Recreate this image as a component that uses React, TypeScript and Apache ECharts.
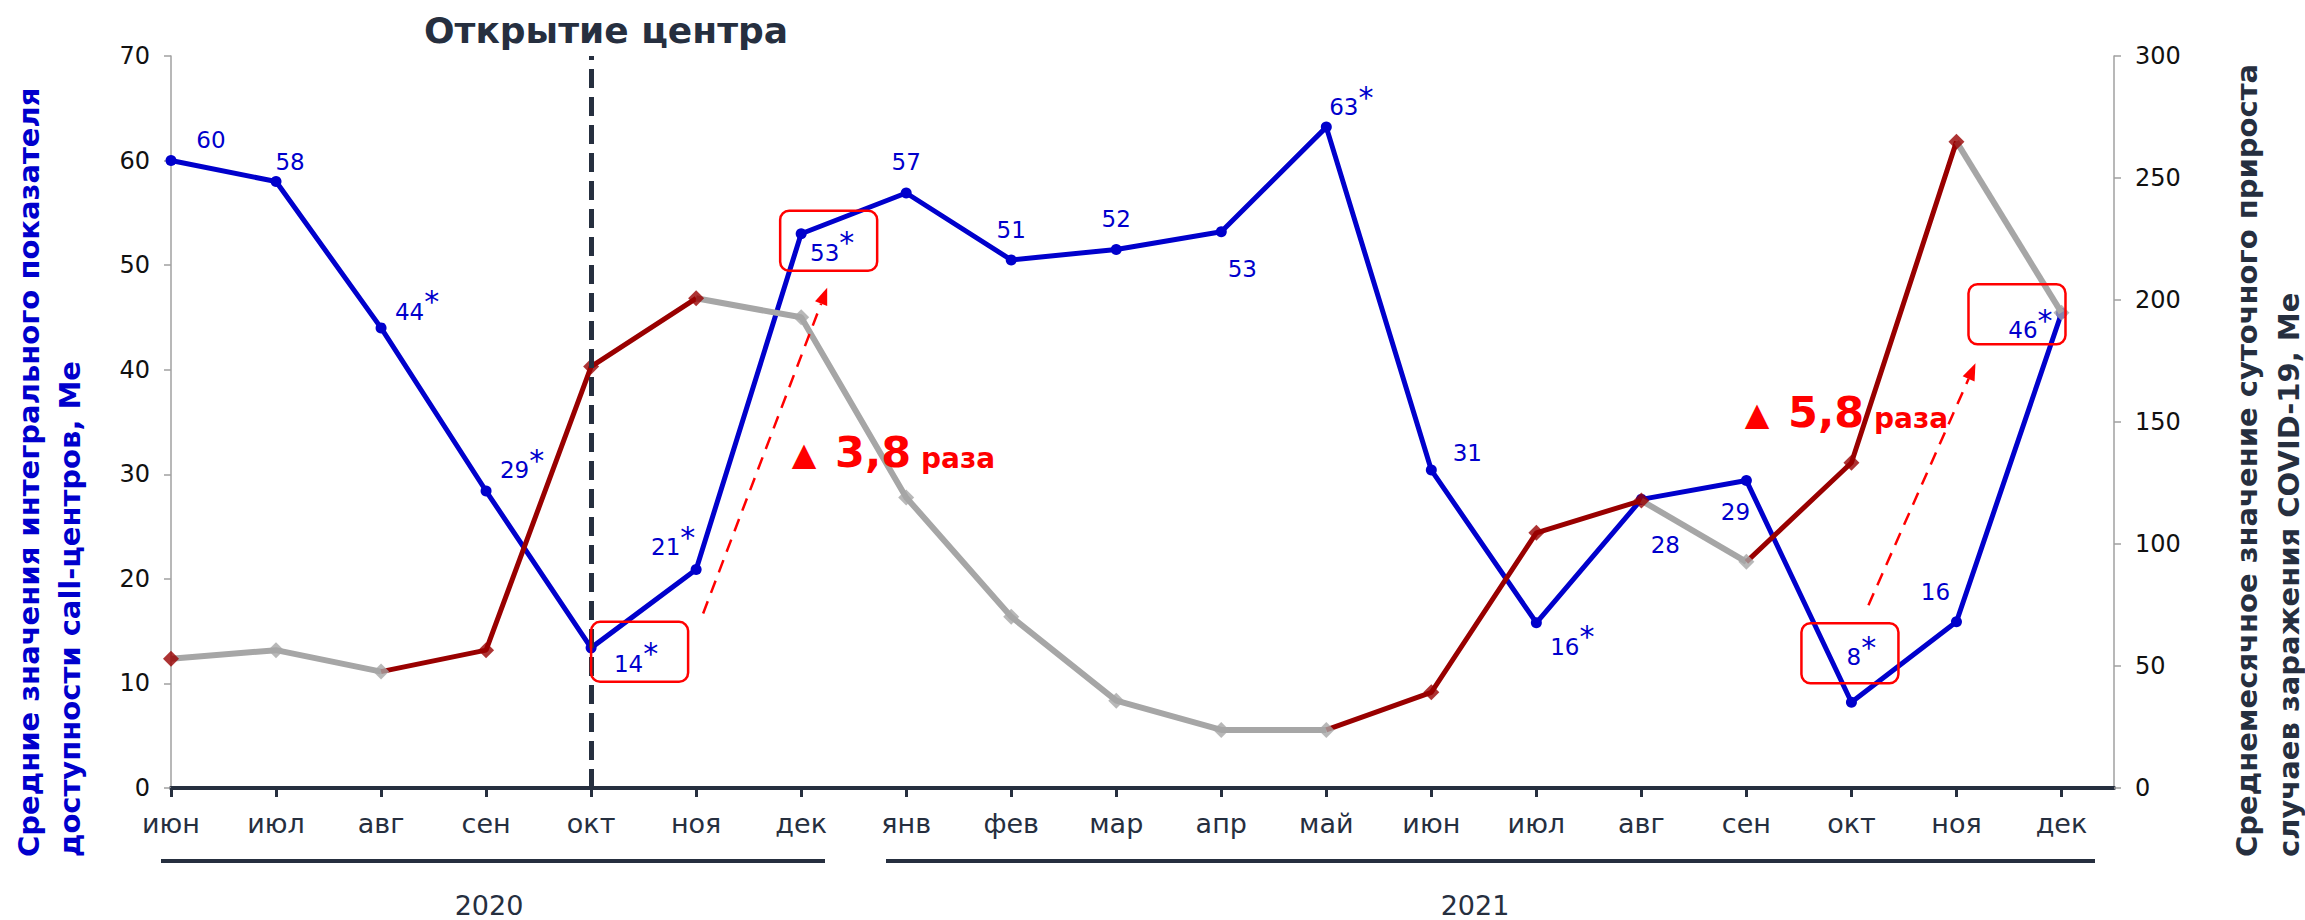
import React, { useEffect, useRef } from 'react';
import * as echarts from 'echarts';

// ---------- data ----------
const months = ['июн', 'июл', 'авг', 'сен', 'окт', 'ноя', 'дек', 'янв', 'фев', 'мар', 'апр', 'май', 'июн', 'июл', 'авг', 'сен', 'окт', 'ноя', 'дек'];
const years = ['2020', '2021'];
// Средние значения интегрального показателя доступности call-центров (левая ось)
const availability = [60, 58, 44, 28.4, 13.4, 20.9, 53, 56.9, 50.5, 51.5, 53.2, 63.2, 30.4, 15.8, 27.6, 29.4, 8.2, 15.9, 45.4];
const availabilityLabels = ['60', '58', '44*', '29*', '14*', '21*', '53*', '57', '51', '52', '53', '63*', '31', '16*', '28', '29', '8*', '16', '46*'];
// Среднемесячное значение суточного прироста COVID-19 (правая ось)
const covidDaily = [53, 56.5, 47.7, 56.5, 172.7, 200.7, 192.9, 119.1, 70.2, 35.8, 23.8, 23.8, 39.2, 104.6, 117.8, 92.7, 133.3, 264.9, 194.8];
// trend colour of each marker and of each segment (r = рост, g = снижение)
const covidPointTrend = ['r', 'g', 'g', 'r', 'r', 'r', 'g', 'g', 'g', 'g', 'g', 'g', 'r', 'r', 'r', 'g', 'r', 'r', 'g'];
const covidSegmentTrend = ['g', 'g', 'r', 'r', 'r', 'g', 'g', 'g', 'g', 'g', 'g', 'r', 'r', 'r', 'g', 'r', 'r', 'g'];
const leftAxisRange = [0, 70, 10];
const rightAxisRange = [0, 300, 50];
const centerOpeningIndex = 4;
const growthLabels = ['3,8', '5,8'];

// ---------- styling / layout ----------
const FONT = 'DejaVu Sans';
const DARK = '#262F3F';
const BLUE = '#0000CC';
const RED = '#990000';
const GRAY = '#A6A6A6';
const ANN = '#FF0000';
// label offsets (centre of the number relative to its point)
const labelOffsets: number[][] = [
  [40, -21], [14, -19], [29, -16], [29, -21], [38, 16], [-30, -22], [24, 19], [0, -31], [0, -30], [0, -30],
  [21, 37], [18, -20], [36, -17], [29, 24], [24, 46], [-11, 31], [3, -45], [-21, -30], [-38, 17],
];

function labelText(s: string) {
  if (s.endsWith('*')) return `{n|${s.slice(0, -1)}}{s|*}`;
  return `{n|${s}}`;
}

export default function App() {
  const ref = useRef<HTMLDivElement>(null);
  useEffect(() => {
    if (!ref.current) return;
    const chart = echarts.init(ref.current, undefined, { renderer: 'svg' });
    const idx = months.map((_, i) => i);

    // covid segments grouped into runs of one colour
    const runs: { color: string; from: number; to: number }[] = [];
    covidSegmentTrend.forEach((c, i) => {
      const last = runs[runs.length - 1];
      if (last && last.color === c && last.to === i) last.to = i + 1;
      else runs.push({ color: c, from: i, to: i + 1 });
    });
    const covidLineSeries = runs.map((r) => ({
      type: 'line',
      yAxisIndex: 1,
      showSymbol: false,
      symbol: 'none',
      z: 3,
      lineStyle: { color: r.color === 'r' ? RED : GRAY, width: r.color === 'r' ? 5 : 6 },
      data: covidDaily.slice(r.from, r.to + 1).map((v, k) => [r.from + k, v]),
      silent: true,
    }));

    const option: any = {
      animation: false,
      backgroundColor: '#ffffff',
      grid: { left: 171, right: 191, top: 56, bottom: 132, containLabel: false },
      xAxis: {
        type: 'value',
        min: 0,
        max: 18.5,
        interval: 1,
        axisLine: { show: true, onZero: false, lineStyle: { color: DARK, width: 4 } },
        axisTick: { show: true, customValues: idx, length: 9, lineStyle: { color: DARK, width: 3 } },
        axisLabel: {
          customValues: idx,
          formatter: (v: number) => months[Math.round(v)],
          fontSize: 27,
          fontFamily: FONT,
          color: DARK,
          margin: 22,
        },
        splitLine: { show: false },
      },
      yAxis: [
        {
          type: 'value',
          min: leftAxisRange[0],
          max: leftAxisRange[1],
          interval: leftAxisRange[2],
          position: 'left',
          axisLine: { show: true, lineStyle: { color: '#A0A0A0', width: 1.5 } },
          axisTick: { show: true, length: 7, lineStyle: { color: '#A0A0A0', width: 1.5 } },
          axisLabel: { fontSize: 24, fontFamily: FONT, color: '#111111', margin: 21 },
          splitLine: { show: false },
        },
        {
          type: 'value',
          min: rightAxisRange[0],
          max: rightAxisRange[1],
          interval: rightAxisRange[2],
          position: 'right',
          axisLine: { show: true, lineStyle: { color: '#A0A0A0', width: 1.5 } },
          axisTick: { show: true, length: 7, lineStyle: { color: '#A0A0A0', width: 1.5 } },
          axisLabel: { fontSize: 24, fontFamily: FONT, color: '#111111', margin: 21 },
          splitLine: { show: false },
        },
      ],
      series: [
        {
          type: 'line',
          yAxisIndex: 0,
          z: 2,
          symbol: 'circle',
          symbolSize: 11,
          showAllSymbol: true,
          itemStyle: { color: BLUE },
          lineStyle: { color: BLUE, width: 5 },
          data: availability.map((v, i) => {
            const star = availabilityLabels[i].endsWith('*');
            const o = labelOffsets[i];
            return {
              value: [i, v],
              label: { offset: [o[0] + (star ? 7 : 0), o[1]] },
            };
          }),
          label: {
            show: true,
            position: 'inside',
            formatter: (p: any) => labelText(availabilityLabels[p.dataIndex]),
            rich: {
              n: { fontSize: 23, fontFamily: FONT, color: BLUE },
              s: { fontSize: 30, fontFamily: FONT, color: BLUE, padding: [0, 0, 20, 0] },
            },
          },
          markLine: {
            silent: true,
            symbol: ['none', 'none'],
            label: { show: false },
            lineStyle: { color: DARK, width: 5, type: [19, 9] },
            data: [{ xAxis: centerOpeningIndex }],
          },
        },
        ...covidLineSeries,
        {
          type: 'scatter',
          yAxisIndex: 1,
          symbol: 'diamond',
          symbolSize: 16,
          z: 4,
          data: covidDaily.map((v, i) => ({
            value: [i, v],
            itemStyle: { color: covidPointTrend[i] === 'r' ? RED : GRAY },
          })),
        },
      ],
    };
    chart.setOption(option);

    const px = (i: number, v: number) => chart.convertToPixel({ xAxisIndex: 0, yAxisIndex: 0 }, [i, v]) as number[];
    const boxAt = (i: number, dx0: number, dy0: number) => {
      const p = px(i, availability[i]);
      return {
        type: 'rect',
        shape: { x: p[0] + dx0, y: p[1] + dy0, width: 97, height: 60, r: 9 },
        style: { fill: 'none', stroke: ANN, lineWidth: 2.5 },
        z: 10,
      };
    };
    const arrow = (s: number[], e: number[]) => {
      const dx = e[0] - s[0];
      const dy = e[1] - s[1];
      const len = Math.sqrt(dx * dx + dy * dy);
      const ux = dx / len;
      const uy = dy / len;
      const bx = e[0] - ux * 17;
      const by = e[1] - uy * 17;
      return [
        {
          type: 'line',
          shape: { x1: s[0], y1: s[1], x2: bx, y2: by },
          style: { stroke: ANN, lineWidth: 2.5, lineDash: [13, 9] },
          z: 10,
        },
        {
          type: 'polygon',
          shape: { points: [[e[0], e[1]], [bx - uy * 6.5, by + ux * 6.5], [bx + uy * 6.5, by - ux * 6.5]] },
          style: { fill: ANN },
          z: 10,
        },
      ];
    };
    const pNov20 = px(5, availability[5]);
    const pDec20 = px(6, availability[6]);
    const pOct21 = px(16, availability[16]);
    const pDec21 = px(18, availability[18]);

    const growth = (x: number, y: number, val: string) => [
      { type: 'text', x: x, y: y, style: { text: '▲', fill: ANN, fontSize: 32, fontFamily: FONT, align: 'center', verticalAlign: 'middle' }, z: 10 },
      { type: 'text', x: x + 31, y: y - 2, style: { text: val, fill: ANN, fontSize: 43, fontWeight: 'bold', fontFamily: FONT, align: 'left', verticalAlign: 'middle' }, z: 10 },
      { type: 'text', x: x + 117, y: y + 4, style: { text: 'раза', fill: ANN, fontSize: 28, fontWeight: 'bold', fontFamily: FONT, align: 'left', verticalAlign: 'middle' }, z: 10 },
    ];

    const graphic: any[] = [
      { type: 'text', x: 606, y: 30, style: { text: 'Открытие центра', fill: DARK, fontSize: 36, fontWeight: 'bold', fontFamily: FONT, align: 'center', verticalAlign: 'middle' } },
      { type: 'text', x: 29, y: 857, rotation: Math.PI / 2, style: { text: 'Средние значения интегрального показателя', fill: BLUE, fontSize: 29, fontWeight: 'bold', fontFamily: FONT, align: 'left', verticalAlign: 'middle' } },
      { type: 'text', x: 70, y: 857, rotation: Math.PI / 2, style: { text: 'доступности call-центров, Ме', fill: BLUE, fontSize: 29, fontWeight: 'bold', fontFamily: FONT, align: 'left', verticalAlign: 'middle' } },
      { type: 'text', x: 2247, y: 857, rotation: Math.PI / 2, style: { text: 'Среднемесячное значение суточного прироста', fill: DARK, fontSize: 29, fontWeight: 'bold', fontFamily: FONT, align: 'left', verticalAlign: 'middle' } },
      { type: 'text', x: 2289, y: 857, rotation: Math.PI / 2, style: { text: 'случаев заражения COVID-19, Ме', fill: DARK, fontSize: 29, fontWeight: 'bold', fontFamily: FONT, align: 'left', verticalAlign: 'middle' } },
      { type: 'line', shape: { x1: 161, y1: 861, x2: 825, y2: 861 }, style: { stroke: DARK, lineWidth: 4 } },
      { type: 'line', shape: { x1: 886, y1: 861, x2: 2095, y2: 861 }, style: { stroke: DARK, lineWidth: 4 } },
      { type: 'text', x: 489, y: 905, style: { text: years[0], fill: DARK, fontSize: 27, fontFamily: FONT, align: 'center', verticalAlign: 'middle' } },
      { type: 'text', x: 1475, y: 905, style: { text: years[1], fill: DARK, fontSize: 27, fontFamily: FONT, align: 'center', verticalAlign: 'middle' } },
      boxAt(4, 0, -26),
      boxAt(6, -21, -23),
      boxAt(16, -50, -79),
      boxAt(18, -93, -29),
      ...arrow([pNov20[0] + 7, pNov20[1] + 44], [pDec20[0] + 26, pDec20[1] + 54]),
      ...arrow([pOct21[0] + 17, pOct21[1] - 97], [pDec21[0] - 86, pDec21[1] + 50]),
      ...growth(804, 454, growthLabels[0]),
      ...growth(1757, 414, growthLabels[1]),
    ];
    chart.setOption({ graphic });

    return () => chart.dispose();
  }, []);

  return (
    <div
      ref={ref}
      style={{ position: 'fixed', left: 0, top: 0, width: 2305, height: 920, background: '#ffffff' }}
    />
  );
}
